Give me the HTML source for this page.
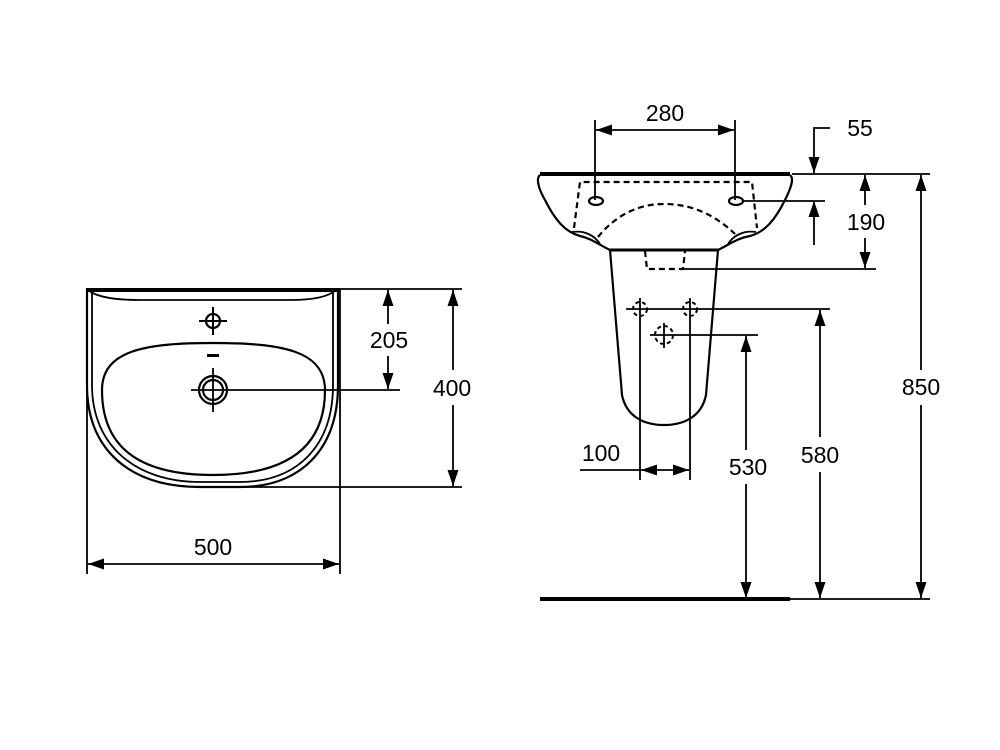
<!DOCTYPE html>
<html><head><meta charset="utf-8"><style>
html,body{margin:0;padding:0;background:#fff}
svg{display:block}
text{font-family:"Liberation Sans",sans-serif;font-size:23px;fill:#000;text-anchor:middle}
</style></head><body>
<svg width="1000" height="750" viewBox="0 0 1000 750" xmlns="http://www.w3.org/2000/svg">
<defs>
<marker id="a" viewBox="0 0 16 11" refX="16" refY="5.5" markerWidth="16" markerHeight="11" markerUnits="userSpaceOnUse" orient="auto-start-reverse"><path d="M0,0 L16,5.5 L0,11 Z" fill="#000"/></marker>
</defs>
<g fill="none" stroke="#000" stroke-width="1.8">
<!-- LEFT VIEW -->
<path d="M87,289 L87,385 C87,450 130,487 200,487 L240,487 C300,487 338,450 338,385 L338,289" stroke-width="2.2"/>
<path d="M92,292 L92,385 C92,445 135,482 200,482 L240,482 C298,482 333,445 333,385 L333,292" stroke-width="1.8"/>
<path d="M86,290 L340,290" stroke-width="4"/>
<path d="M88,290 Q100,300 140,300 L290,300 Q325,300 336,290" stroke-width="1.8"/>
<path d="M213,343 C280,343 325,350 325,390 C325,445 290,475 213,475 C136,475 102,445 102,390 C102,350 146,343 213,343 Z" stroke-width="2.2"/>
<circle cx="213" cy="321" r="7" stroke-width="2.2"/>
<path d="M199,321 L227,321 M213,307 L213,335" stroke-width="2"/>
<rect x="207" y="354" width="12" height="3" fill="#000" stroke="none"/>
<circle cx="213" cy="390" r="14" stroke-width="2.2"/>
<circle cx="213" cy="390" r="10" stroke-width="2.2"/>
<path d="M191,390 L400,390 M213,368 L213,412"/>
<!-- left dims -->
<path d="M87,385 L87,574 M340,289 L340,574"/>
<path d="M88,564 L339,564" marker-start="url(#a)" marker-end="url(#a)"/>
<path d="M340,289 L462,289 M240,487 L462,487"/>
<path d="M388,324 L388,290" marker-end="url(#a)"/>
<path d="M388,356 L388,389" marker-end="url(#a)"/>
<path d="M453,370 L453,290" marker-end="url(#a)"/>
<path d="M453,405 L453,486" marker-end="url(#a)"/>
<!-- RIGHT VIEW -->
<path d="M540,174 L790,174" stroke-width="4"/>
<path d="M540,175 C536,178 538,188 545,200 C555,220 565,232 580,236 C590,238 598,244 610,250 L718,250 C730,244 738,238 750,236 C765,232 775,220 785,200 C792,186 794,178 790,175" stroke-width="2.2"/>
<path d="M572,232 C585,230 595,236 600,244 M756,232 C743,230 733,236 728,244" stroke-width="1.8"/>
<path d="M610,250 L622,395 C626,415 642,425 664,425 C686,425 702,415 706,395 L718,250" stroke-width="2.2"/>
<path d="M610,250 L718,250" stroke-width="3"/>
<g stroke-dasharray="6,4" stroke-width="2.2">
<path d="M574,228 L580,182 L752,182 L757,228"/>
<path d="M598,237 C620,210 645,204 664,204 C688,204 712,212 735,234"/>
<path d="M645,251 L647,269 L683,269 L685,251"/>
</g>
<g stroke-dasharray="4,3" stroke-width="2">
<circle cx="640" cy="309" r="7"/>
<circle cx="690" cy="309" r="7"/>
<circle cx="664" cy="335" r="9"/>
</g>
<ellipse cx="596" cy="201" rx="7" ry="4" stroke-width="2.2"/>
<ellipse cx="736" cy="201" rx="7" ry="4" stroke-width="2.2"/>
<path d="M626,309 L830,309 M640,298 L640,480 M690,298 L690,480 M650,335 L758,335 M664,323 L664,348"/>
<!-- right dims -->
<path d="M595,120 L595,200 M735,120 L735,200"/>
<path d="M596,130 L734,130" marker-start="url(#a)" marker-end="url(#a)"/>
<path d="M830,128 L814,128 L814,173" marker-end="url(#a)"/>
<path d="M814,245 L814,201" marker-end="url(#a)"/>
<path d="M792,174 L930,174 M743,201 L825,201 M683,269 L876,269"/>
<path d="M865,205 L865,175" marker-end="url(#a)"/>
<path d="M865,238 L865,268" marker-end="url(#a)"/>
<path d="M921,370 L921,175" marker-end="url(#a)"/>
<path d="M921,405 L921,598" marker-end="url(#a)"/>
<path d="M820,437 L820,310" marker-end="url(#a)"/>
<path d="M820,472 L820,598" marker-end="url(#a)"/>
<path d="M746,450 L746,336" marker-end="url(#a)"/>
<path d="M746,484 L746,598" marker-end="url(#a)"/>
<path d="M580,470 L641,470"/>
<path d="M665,470 L641,470" marker-end="url(#a)"/>
<path d="M665,470 L689,470" marker-end="url(#a)"/>
<path d="M540,599 L790,599" stroke-width="4"/>
<path d="M790,599 L930,599"/>
</g>
<text x="213" y="555">500</text>
<text x="389" y="348">205</text>
<text x="452" y="396">400</text>
<text x="665" y="121">280</text>
<text x="860" y="136">55</text>
<text x="866" y="230">190</text>
<text x="921" y="395">850</text>
<text x="820" y="463">580</text>
<text x="748" y="475">530</text>
<text x="601" y="461">100</text>
</svg>
</body></html>
